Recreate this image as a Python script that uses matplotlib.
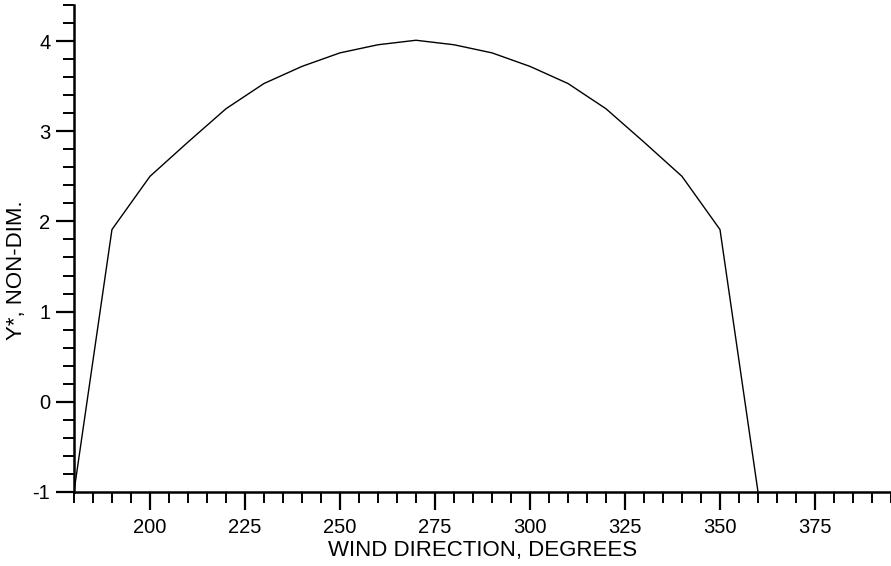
import matplotlib
matplotlib.use("Agg")
import matplotlib.pyplot as plt
from matplotlib.ticker import MultipleLocator

# wind direction (deg) and non-dimensional Y*
wind_dir = [180, 190, 200, 210, 220, 230, 240, 250, 260, 270,
            280, 290, 300, 310, 320, 330, 340, 350, 360]
y_star = [-1.0, 1.91, 2.50, 2.88, 3.25, 3.53, 3.72, 3.87, 3.96, 4.01,
          3.96, 3.87, 3.72, 3.53, 3.25, 2.88, 2.50, 1.91, -1.0]

x_ticks = [200, 225, 250, 275, 300, 325, 350, 375]
y_ticks = [-1, 0, 1, 2, 3, 4]

plt.rcParams['font.family'] = ['Liberation Sans', 'DejaVu Sans']
plt.rcParams['axes.unicode_minus'] = False

fig = plt.figure(figsize=(8.91, 5.66), dpi=100)
ax = fig.add_axes([0.083, 0.131, 0.917, 0.86])

ax.plot(wind_dir, y_star, color='black', linewidth=1.0)

ax.set_xlim(180, 395)
ax.set_ylim(-1, 4.4)
ax.set_xticks(x_ticks)
ax.set_yticks(y_ticks)
ax.xaxis.set_minor_locator(MultipleLocator(5))
ax.yaxis.set_minor_locator(MultipleLocator(0.2))

for s in ['top', 'right']:
    ax.spines[s].set_visible(False)
for s in ['left', 'bottom']:
    ax.spines[s].set_linewidth(1.8)

ax.tick_params(which='major', direction='out', length=13, width=1.6,
               labelsize=14.5)
ax.tick_params(axis='x', which='major', pad=6)
ax.tick_params(axis='y', which='major', pad=4)
ax.tick_params(which='minor', direction='out', length=8, width=1.4)

ax.set_xlabel('WIND DIRECTION, DEGREES', fontsize=16, labelpad=2)
ax.set_ylabel('Y*, NON-DIM.', fontsize=16)
ax.yaxis.set_label_coords(-0.057, 0.456)

fig.savefig('out.png', dpi=100)
